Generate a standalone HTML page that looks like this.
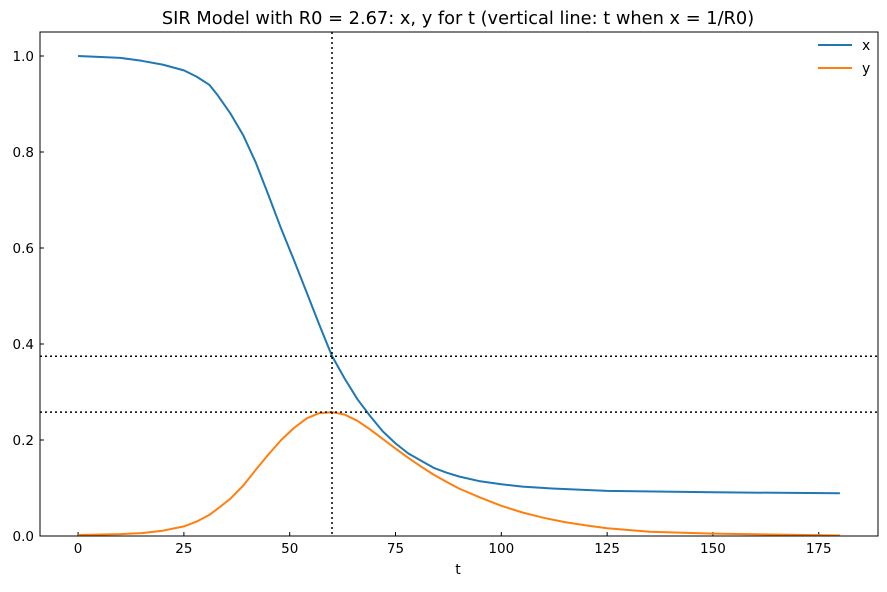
<!DOCTYPE html>
<html><head><meta charset="utf-8"><style>
body{margin:0;background:#fff;font-family:"Liberation Sans","DejaVu Sans",sans-serif;}
svg text{font-family:"DejaVu Sans","Liberation Sans",sans-serif;}
</style></head><body>
<svg id="chart" width="887" height="587" viewBox="0 0 887 587" xmlns="http://www.w3.org/2000/svg">
<rect width="887" height="587" fill="#fff"/>
<text x="458" y="24" font-size="17.8" text-anchor="middle" fill="#000">SIR Model with R0 = 2.67: x, y for t (vertical line: t when x = 1/R0)</text>
<g id="plot"></g>
<rect x="40" y="32" width="838" height="504" fill="none" stroke="#000" stroke-width="1"/>
<text x="458" y="574" font-size="14" text-anchor="middle">t</text>
<g>
<line x1="818" y1="45" x2="852" y2="45" stroke="#1f77b4" stroke-width="2"/>
<text x="862" y="50" font-size="14">x</text>
<line x1="818" y1="68" x2="852" y2="68" stroke="#ff7f0e" stroke-width="2"/>
<text x="862" y="73" font-size="14">y</text>
</g>
</svg>
<script>
const tVals=[0,10,15,20,25,28,31,33,36,39,42,45,48,51,54,57,60,63,66,69,72,75,78,81,84,87,90,95,100,105,112,125,150,180];
const xVals=[1.0,0.996,0.99,0.982,0.97,0.957,0.94,0.918,0.88,0.835,0.778,0.71,0.64,0.575,0.508,0.44,0.375,0.328,0.285,0.25,0.218,0.193,0.172,0.157,0.142,0.132,0.124,0.114,0.108,0.103,0.099,0.094,0.091,0.089];
const tValsY=[0,10,15,20,25,28,31,33,36,39,42,45,48,51,54,57,60,63,66,69,72,75,78,81,84,87,90,95,100,105,110,115,120,125,135,150,180];
const yVals=[0.002,0.004,0.006,0.011,0.02,0.03,0.044,0.057,0.078,0.105,0.138,0.17,0.2,0.225,0.245,0.256,0.258,0.253,0.24,0.222,0.202,0.182,0.163,0.145,0.128,0.113,0.099,0.08,0.063,0.049,0.038,0.029,0.022,0.016,0.009,0.005,0.001];
const xTicks=[0,25,50,75,100,125,150,175];
const yTicks=[0.0,0.2,0.4,0.6,0.8,1.0];
const R0=2.67;
const tPeak=60;
const yPeak=0.258;
const NS="http://www.w3.org/2000/svg";
const L=40,R=878,T=32,B=536;
const tMin=-9,tMax=189,yMin=0,yMax=1.05;
function sx(t){return L+(t-tMin)/(tMax-tMin)*(R-L);}
function sy(v){return B-(v-yMin)/(yMax-yMin)*(B-T);}
const g=document.getElementById('plot');
function mk(tag,attrs){const e=document.createElementNS(NS,tag);for(const k in attrs)e.setAttribute(k,attrs[k]);g.appendChild(e);return e;}
xTicks.forEach(v=>{
 const l=mk('line',{x1:sx(v),x2:sx(v),y1:B,y2:B-4,stroke:'#000'});
 
 
 const t=mk('text',{x:sx(v),y:B+17,'font-size':13.5,'text-anchor':'middle'});t.textContent=v;
 
 
});
yTicks.forEach(v=>{
 const l=mk('line',{x1:L,x2:L+4,y1:sy(v),y2:sy(v),stroke:'#000'});
 
 
 const t=mk('text',{x:L-6,y:sy(v)+5,'font-size':13.5,'text-anchor':'end'});t.textContent=v.toFixed(1);
 
 
});
function path(ts,vs,color,name){
 const d=ts.map((t,i)=>(i?'L':'M')+sx(t).toFixed(1)+','+sy(vs[i]).toFixed(1)).join(' ');
 const p=mk('path',{d:d,fill:'none',stroke:color,'stroke-width':2,'stroke-linejoin':'round'});
 
 
}
path(tVals,xVals,'#1f77b4','x-line');
path(tValsY,yVals,'#ff7f0e','y-line');
const h1=mk('line',{x1:L,x2:R,y1:sy(1/R0),y2:sy(1/R0),stroke:'#000','stroke-width':1.5,'stroke-dasharray':'2,3'});


const h2=mk('line',{x1:L,x2:R,y1:sy(yPeak),y2:sy(yPeak),stroke:'#000','stroke-width':1.5,'stroke-dasharray':'2,3'});


const v1=mk('line',{x1:sx(tPeak),x2:sx(tPeak),y1:T,y2:B,stroke:'#000','stroke-width':1.5,'stroke-dasharray':'2,3'});


</script>
</body></html>
